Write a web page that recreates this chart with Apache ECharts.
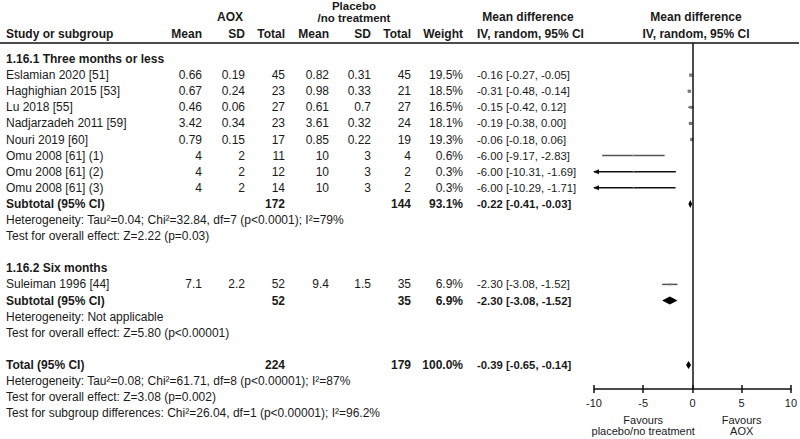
<!DOCTYPE html>
<html><head><meta charset="utf-8">
<script src="https://cdn.jsdelivr.net/npm/echarts@6/dist/echarts.min.js"></script>
<style>html,body{margin:0;padding:0;background:#fff}#c{width:800px;height:439px}</style>
</head><body><div id="c"></div>
<script>
// ---------- DATA ----------
const studies = ['Eslamian 2020 [51]','Haghighian 2015 [53]','Lu 2018 [55]','Nadjarzadeh 2011 [59]','Nouri 2019 [60]','Omu 2008 [61] (1)','Omu 2008 [61] (2)','Omu 2008 [61] (3)','Suleiman 1996 [44]'];
const studyGroup = [0,0,0,0,0,0,0,0,1];
const aoxMean = [0.66,0.67,0.46,3.42,0.79,4,4,4,7.1];
const aoxSD = [0.19,0.24,0.06,0.34,0.15,2,2,2,2.2];
const aoxN = [45,23,27,23,17,11,12,14,52];
const plMean = [0.82,0.98,0.61,3.61,0.85,10,10,10,9.4];
const plSD = [0.31,0.33,0.7,0.32,0.22,3,3,3,1.5];
const plN = [45,21,27,24,19,4,2,2,35];
const weight = [19.5,18.5,16.5,18.1,19.3,0.6,0.3,0.3,6.9];
const md = [-0.16,-0.31,-0.15,-0.19,-0.06,-6.00,-6.00,-6.00,-2.30];
const ciLo = [-0.27,-0.48,-0.42,-0.38,-0.18,-9.17,-10.31,-10.29,-3.08];
const ciHi = [-0.05,-0.14,0.12,0.00,0.06,-2.83,-1.69,-1.71,-1.52];

const groupTitles = ['1.16.1 Three months or less','1.16.2 Six months'];
const subAoxN = [172,52];
const subPlN = [144,35];
const subWeight = [93.1,6.9];
const subMd = [-0.22,-2.30];
const subLo = [-0.41,-3.08];
const subHi = [-0.03,-1.52];
const subHet = ['Heterogeneity: Tau\u00b2=0.04; Chi\u00b2=32.84, df=7 (p<0.0001); I\u00b2=79%','Heterogeneity: Not applicable'];
const subTest = ['Test for overall effect: Z=2.22 (p=0.03)','Test for overall effect: Z=5.80 (p<0.00001)'];

const totAoxN = 224, totPlN = 179, totWeight = 100.0, totMd = -0.39, totLo = -0.65, totHi = -0.14;
const totHet = 'Heterogeneity: Tau\u00b2=0.08; Chi\u00b2=61.71, df=8 (p<0.00001); I\u00b2=87%';
const totTest = 'Test for overall effect: Z=3.08 (p=0.002)';
const subgroupDiff = 'Test for subgroup differences: Chi\u00b2=26.04, df=1 (p<0.00001); I\u00b2=96.2%';

const xTickMin = -10, xTickMax = 10, xTickStep = 5;
const favoursLeft = 'Favours\nplacebo/no treatment';
const favoursRight = 'Favours\nAOX';

// ---------- LAYOUT ----------
const ROW0 = 59, ROWH = 16.1;
const GRID_TOP = 43, GRID_BOTTOM_Y = 389, GRID_LEFT = 594, GRID_RIGHT = 1;
const FONT = '"Liberation Sans", Arial, Helvetica, sans-serif';
const FS = 12, FS_CI = 11.3, FS_AX = 11;
const TXT = '#1a1a1a';
const col = {name:6, aMean:202, aSD:245, aN:285, pMean:329, pSD:371, pN:411, w:463, ci:477};

// build row list
const rows = [];
let k = 0;
for (let g = 0; g < groupTitles.length; g++) {
  rows.push({type:'head', k:k++, text:groupTitles[g]});
  studies.forEach((s,i) => { if (studyGroup[i] === g) rows.push({type:'study', k:k++, i}); });
  rows.push({type:'sub', k:k++, g});
  rows.push({type:'note', k:k++, text:subHet[g]});
  rows.push({type:'note', k:k++, text:subTest[g]});
  k++;
}
rows.push({type:'total', k:k++});
rows.push({type:'note', k:k++, text:totHet});
rows.push({type:'note', k:k++, text:totTest});
rows.push({type:'note', k:k++, text:subgroupDiff});

const fmtCI = (m,l,h) => m.toFixed(2) + ' [' + l.toFixed(2) + ', ' + h.toFixed(2) + ']';

// forest plot data
const plotData = [];
rows.forEach(r => {
  if (r.type === 'study') plotData.push([md[r.i], ciLo[r.i], ciHi[r.i], r.k, weight[r.i], 0]);
  if (r.type === 'sub') plotData.push([subMd[r.g], subLo[r.g], subHi[r.g], r.k, subWeight[r.g], 1]);
  if (r.type === 'total') plotData.push([totMd, totLo, totHi, r.k, totWeight, 1]);
});

const chart = echarts.init(document.getElementById('c'), null, {renderer:'svg'});
const yMin = (GRID_TOP - ROW0) / ROWH;
const yMax = (GRID_BOTTOM_Y - ROW0) / ROWH;

function renderItem(params, api) {
  const m = api.value(0), lo = api.value(1), hi = api.value(2), row = api.value(3), w = api.value(4), kind = api.value(5);
  const l = Math.max(lo, xTickMin), h = Math.min(hi, xTickMax);
  const pL = api.coord([l,row]), pH = api.coord([h,row]), pM = api.coord([m,row]);
  if (kind === 1) {
    const hh = 4;
    return {type:'polygon', shape:{points:[[pL[0],pM[1]],[pM[0],pM[1]-hh],[pH[0],pM[1]],[pM[0],pM[1]+hh]]}, style:{fill:'#000'}};
  }
  const clipped = lo < xTickMin;
  const children = [];
  children.push({type:'line', shape:{x1:pL[0],y1:pL[1],x2:pH[0],y2:pH[1]}, style:{stroke: clipped ? '#111' : '#555', lineWidth:1.5}});
  if (clipped) children.push({type:'polygon', shape:{points:[[pL[0]-1,pL[1]],[pL[0]+5,pL[1]-2.5],[pL[0]+5,pL[1]+2.5]]}, style:{fill:'#111'}});
  const s = 1 + w * 0.12;
  children.push({type:'rect', shape:{x:pM[0]-s/2, y:pM[1]-s/2, width:s, height:s}, style:{fill: w < 1 ? '#aaa' : '#7a7a7a'}});
  return {type:'group', children};
}

const axisCommon = {type:'value', min:xTickMin, max:xTickMax, interval:xTickStep, position:'bottom', splitLine:{show:false}};

chart.setOption({
  animation:false,
  grid:{left:GRID_LEFT, right:GRID_RIGHT, top:GRID_TOP, bottom:439 - GRID_BOTTOM_Y, containLabel:false},
  xAxis:[
    Object.assign({}, axisCommon, {
      axisLine:{show:true, onZero:false, lineStyle:{color:'#111', width:1.5}},
      axisTick:{show:false},
      axisLabel:{show:true, margin:8, fontSize:FS_AX, fontFamily:FONT, color:TXT}}),
    Object.assign({}, axisCommon, {offset:-4,
      axisLine:{show:false, onZero:false},
      axisTick:{show:true, length:8, inside:false, lineStyle:{color:'#111', width:1.5}},
      axisLabel:{show:false}})
  ],
  yAxis:{type:'value', inverse:true, min:yMin, max:yMax, show:false},
  series:[{
    type:'custom', xAxisIndex:0, yAxisIndex:0, data:plotData, renderItem, clip:false, silent:true,
    markLine:{silent:true, symbol:'none', label:{show:false}, lineStyle:{color:'#111', width:1.5, type:'solid'},
      data:[{xAxis:0}]}
  }]
});

// ---------- TABLE TEXT ----------
const rowPx = kk => chart.convertToPixel({yAxisIndex:0}, kk);
const xPx = v => chart.convertToPixel({xAxisIndex:0}, v);
const g = [];
function t(text, x, y, align, bold, fs, lh) {
  const st = {text, x:0, y:0, align:align||'left', verticalAlign:'middle',
    font:(bold?'bold ':'') + (fs||FS) + 'px ' + FONT, fill:TXT};
  if (lh) st.lineHeight = lh;
  g.push({type:'text', silent:true, x, y, style:st});
}
// header
t('AOX', 230, 17, 'center', true);
t('Placebo', 354, 6, 'center', true, 11.5);
t('/no treatment', 354, 18, 'center', true, 11.5);
t('Mean difference', 528, 17, 'center', true);
t('Mean difference', 696, 17, 'center', true);
t('Study or subgroup', col.name, 34, 'left', true);
t('Mean', col.aMean, 34, 'right', true);
t('SD', col.aSD, 34, 'right', true);
t('Total', col.aN, 34, 'right', true);
t('Mean', col.pMean, 34, 'right', true);
t('SD', col.pSD, 34, 'right', true);
t('Total', col.pN, 34, 'right', true);
t('Weight', col.w, 34, 'right', true);
t('IV, random, 95% CI', col.ci, 34, 'left', true);
t('IV, random, 95% CI', 696, 34, 'center', true);
g.push({type:'line', silent:true, shape:{x1:0, y1:GRID_TOP, x2:799, y2:GRID_TOP}, style:{stroke:'#111', lineWidth:1.5}});

rows.forEach(r => {
  const y = rowPx(r.k);
  if (r.type === 'head') t(r.text, col.name, y, 'left', true);
  else if (r.type === 'note') t(r.text, col.name, y, 'left', false);
  else if (r.type === 'study') {
    const i = r.i;
    t(studies[i], col.name, y);
    t(String(aoxMean[i]), col.aMean, y, 'right');
    t(String(aoxSD[i]), col.aSD, y, 'right');
    t(String(aoxN[i]), col.aN, y, 'right');
    t(String(plMean[i]), col.pMean, y, 'right');
    t(String(plSD[i]), col.pSD, y, 'right');
    t(String(plN[i]), col.pN, y, 'right');
    t(weight[i].toFixed(1) + '%', col.w, y, 'right');
    t(fmtCI(md[i], ciLo[i], ciHi[i]), col.ci, y, 'left', false, FS_CI);
  } else if (r.type === 'sub') {
    const gi = r.g;
    t('Subtotal (95% CI)', col.name, y, 'left', true);
    t(String(subAoxN[gi]), col.aN, y, 'right', true);
    t(String(subPlN[gi]), col.pN, y, 'right', true);
    t(subWeight[gi].toFixed(1) + '%', col.w, y, 'right', true);
    t(fmtCI(subMd[gi], subLo[gi], subHi[gi]), col.ci, y, 'left', true, FS_CI);
  } else if (r.type === 'total') {
    t('Total (95% CI)', col.name, y, 'left', true);
    t(String(totAoxN), col.aN, y, 'right', true);
    t(String(totPlN), col.pN, y, 'right', true);
    t(totWeight.toFixed(1) + '%', col.w, y, 'right', true);
    t(fmtCI(totMd, totLo, totHi), col.ci, y, 'left', true, FS_CI);
  }
});
// favours labels
t(favoursLeft, xPx(-5), 425, 'center', false, FS_AX, 11);
t(favoursRight, xPx(5), 425, 'center', false, FS_AX, 11);

chart.setOption({graphic:{elements:g}});
</script>
</body></html>
